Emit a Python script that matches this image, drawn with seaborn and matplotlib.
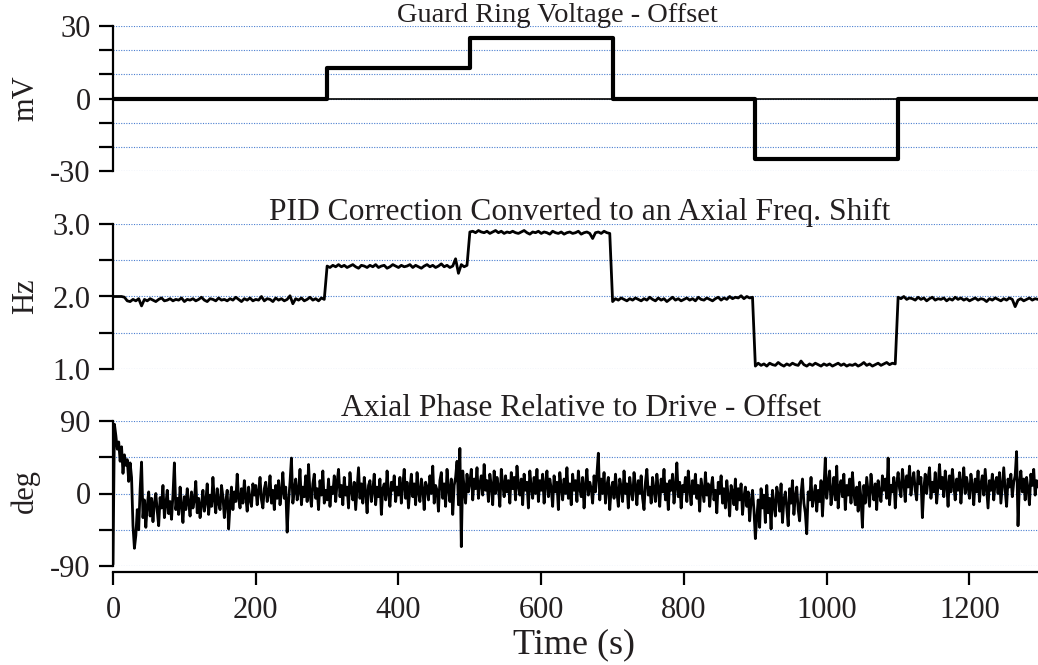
import numpy as np
import matplotlib
matplotlib.use("Agg")
import matplotlib.pyplot as plt
import seaborn as sns
from matplotlib.ticker import FixedLocator, FixedFormatter

# ---------------- data ----------------
# Guard ring voltage steps (mV)
guard_t = [0, 300, 500, 700, 900, 1100, 1300]
guard_mv = [0, 12.5, 25, 0, -25, 0, 0]

# PID correction (centi-Hz), sampled every 4 s from t = 0
pid_step_s = 4
pid_centihz = [
    200, 200, 200, 200, 199, 194, 193, 196, 194, 197,
    187, 196, 194, 197, 195, 193, 196, 198, 194, 195,
    197, 194, 196, 195, 198, 193, 196, 195, 197, 194,
    196, 199, 195, 193, 197, 196, 194, 198, 195, 196,
    194, 197, 195, 199, 196, 193, 197, 195, 198, 194,
    196, 195, 200, 194, 197, 196, 193, 198, 195, 197,
    194, 196, 201, 190, 197, 195, 198, 194, 196, 199,
    195, 197, 194, 198, 196,
    242, 240, 243, 241, 244,
    241, 243, 240, 242, 244, 241, 239, 243, 242, 240,
    243, 241, 244, 240, 242, 243, 239, 241, 244, 242,
    240, 243, 241, 242, 244, 240, 243, 241, 239, 242,
    244, 241, 243, 240, 242, 245, 241, 243, 240, 242,
    252, 232, 244, 241, 243,
    289, 290, 288, 291, 289,
    288, 290, 287, 289, 291, 288, 290, 287, 289, 288,
    290, 288, 287, 289, 291, 288, 286, 289, 288, 290,
    287, 289, 288, 286, 290, 288, 287, 289, 286, 288,
    289, 287, 288, 290, 286, 288, 289, 287, 280, 288,
    289, 287, 290, 288, 287,
    193, 197, 195, 198, 196,
    194, 197, 195, 198, 196, 194, 197, 195, 199, 196,
    194, 198, 195, 197, 193, 196, 199, 195, 197, 194,
    196, 198, 195, 197, 194, 199, 196, 195, 198, 196,
    194, 197, 199, 195, 198, 196, 200, 197, 199, 198,
    201, 197, 200, 198, 199,
    104, 108, 105, 107, 104,
    108, 106, 105, 109, 106, 104, 107, 105, 108, 106,
    105, 111, 106, 104, 107, 105, 108, 106, 104, 107,
    105, 107, 104, 106, 108, 105, 107, 104, 106, 105,
    107, 104, 106, 109, 105, 107, 104, 106, 108, 105,
    107, 109, 106, 108, 107,
    199, 197, 200, 196, 198,
    197, 195, 199, 196, 198, 194, 197, 199, 195, 197,
    196, 198, 194, 197, 195, 199, 196, 198, 195, 197,
    194, 196, 198, 195, 197, 196, 193, 197, 195, 198,
    196, 194, 197, 195, 198, 196, 186, 195, 197, 194,
    196, 198, 195, 197, 196,
]

# Axial phase (deg), sampled every 2 s from t = 0
phase_step_s = 2
phase_deg = [
    -88, 86, 72, 55, 64, 40, 58, 25, 48, 35, 42, 15, 38, 20, -40, -68, -52, -20, -45, 5,
    39, -30, -8, -42, -15, 2, -28, -6, -35, -12, 0, -22, -40, -5, -18, 10, -30, -14, 4, -25,
    -10, -32, -2, 38, -20, -6, -26, 8, -15, -36, -4, -20, 6, -12, -28, 2, -18, -8, 15, -24,
    -6, -30, -14, 4, -22, -10, 12, -26, -2, -16, 20, -8, -24, 6, -12, -20, 10, -4, -30, -10,
    4, -44, -14, 8, -20, 2, -10, 24, -6, -18, 6, -12, 16, -4, -22, 8, -8, -16, 12, -2,
    10, -14, 2, 20, -8, -18, 6, 14, -10, 0, 22, -12, 4, -20, 10, -6, 16, -14, 2, 26,
    -6, 8, -48, -10, 14, 44, -12, 4, 18, -8, 2, 30, -14, 8, -4, 22, -10, 36, 0, -16,
    12, 24, -6, 6, -20, 16, -2, 28, -12, 4, -8, 18, -16, 8, 0, 22, -10, 14, 30, -4,
    10, -14, 20, -2, 8, -18, 26, 4, -8, 14, -20, 6, 32, -6, 12, -12, 20, 2, -24, 10,
    16, -10, 4, 24, -14, 8, -4, 18, -26, 6, 12, -8, 28, 0, -16, 14, 4, 22, -10, 8,
    -2, 20, -12, 10, 30, -6, 14, -18, 6, 24, -4, 12, -14, 26, 2, -10, 18, 6, -20, 14,
    8, -8, 22, 0, 34, -12, 10, 4, -22, 16, 26, -6, 12, -16, 30, 6, -10, 18, -26, 10,
    20, 40, -14, 56, -66, 28, 6, -12, 24, 2, 14, 30, -8, 18, 6, 32, -6, 12, 22, -2,
    36, 4, 16, -10, 24, 10, -14, 28, 0, 20, 8, -16, 30, 12, -4, 22, 2, 16, -12, 26,
    6, 20, -8, 34, 10, -2, 18, -14, 24, 4, 14, -18, 28, 8, -6, 20, 0, 30, -10, 16,
    4, 24, -12, 12, 28, -4, 18, 6, -16, 22, 2, 14, -20, 26, 8, -8, 18, 0, 32, -6,
    12, -14, 24, 4, 16, -10, 28, 6, -4, 20, -18, 10, 30, -2, 14, 6, -12, 22, 2, 24,
    50, -8, 18, 0, 26, -12, 10, 20, -20, 6, 14, -6, 24, 2, -16, 18, 8, -10, 28, 0,
    12, -18, 20, 4, -8, 26, 10, -14, 16, 0, 22, -6, -20, 14, 30, -2, 8, -12, 20, 4,
    -10, 24, 6, -16, 18, 2, 30, -8, 12, -20, 16, 4, 24, -12, 8, 38, -4, 14, -18, 10,
    2, 20, -10, 28, 6, -14, 16, 0, 24, -6, 10, -22, 18, 4, -10, 26, -2, 12, -16, 8,
    20, -8, 4, -24, 14, 0, 22, -12, 6, -18, 16, -4, -28, 10, 2, -14, 18, -20, 6, -8,
    12, -26, -4, 8, -16, 2, -34, -10, 4, -20, -56, -30, -8, -42, 6, -18, -2, -36, 10, -24,
    -6, -44, 4, -14, -28, 8, -2, -22, 12, -36, -8, 2, -18, -40, 6, -12, 16, -26, -4, 8,
    -20, -34, 0, 18, -12, -24, -50, 2, -8, 20, -16, -4, 10, -22, 4, -10, 16, -28, 6, 44,
    -6, 12, 28, -14, 2, 20, -8, 34, -18, 8, 16, -4, 24, -20, 10, -2, 18, -12, 26, 0,
    -14, 8, -22, 14, -6, -42, 10, -12, 20, 2, -16, 24, 6, -8, 12, -20, 16, 0, -10, 22,
    4, 18, -6, 44, -14, 10, 2, 20, -18, 12, 26, 6, -4, 30, 14, -10, 22, 8, 34, -2,
    16, 26, 4, -8, 28, 12, 20, -30, 6, 24, 0, 18, 32, -6, 14, 2, 26, -12, 10, 36,
    6, 20, -4, 28, 12, -16, 22, 2, 30, 10, -8, 18, 4, 26, -12, 14, 32, 0, 20, 8,
    -6, 24, 10, -14, 18, 2, 28, -10, 12, 22, -2, 30, 6, -18, 16, 4, 24, -8, 14, 20,
    0, 26, -12, 10, 32, 4, -16, 18, 8, 24, -4, 14, 22, 52, -40, 12, 28, 2, 18, -8,
    20, 6, -14, 24, 10, 30, -2, 16, 8,
]

titles = ["Guard Ring Voltage - Offset",
          "PID Correction Converted to an Axial Freq. Shift",
          "Axial Phase Relative to Drive - Offset"]
ylabels = ["mV", "Hz", "deg"]
x_ticks = [0, 200, 400, 600, 800, 1000, 1200]

# ---------------- style ----------------
sns.set_theme(style="white")
plt.rcParams["font.family"] = ["Liberation Serif", "DejaVu Serif"]
plt.rcParams["text.color"] = "#231f20"
plt.rcParams["axes.labelcolor"] = "#231f20"
plt.rcParams["xtick.color"] = "black"
plt.rcParams["ytick.color"] = "black"
plt.rcParams["xtick.labelcolor"] = "#231f20"
plt.rcParams["ytick.labelcolor"] = "#231f20"

W, H = 1038, 665
fig = plt.figure(figsize=(W / 100, H / 100), dpi=100)

left = 113 / W
width = 1 - left
XMAX = 1296
FS = 22
grid_color = "#4a7fd0"


def make_ax(top_px):
    return fig.add_axes([left, (H - top_px - 145) / H, width, 145 / H])


def style_ax(ax, ylim, major, major_labels, minor):
    ax.set_xlim(0, XMAX)
    ax.set_ylim(*ylim)
    for s in ["top", "right", "bottom"]:
        ax.spines[s].set_visible(False)
    ax.spines["left"].set_linewidth(1.6)
    ax.spines["left"].set_color("black")
    ax.yaxis.set_major_locator(FixedLocator(major))
    ax.yaxis.set_major_formatter(FixedFormatter(major_labels))
    ax.yaxis.set_minor_locator(FixedLocator(minor))
    ax.tick_params(axis="y", which="both", direction="out", length=10,
                   width=1.6, left=True, pad=6, labelsize=FS)
    ax.set_xticks([])
    ax.grid(axis="y", which="both", color=grid_color, linestyle=(0, (1, 1.3)),
            linewidth=0.8)
    ax.set_axisbelow(True)
    ax.set_ylabel("")


# Panel 1
ax1 = make_ax(26)
ax1.axhline(0, color="black", linewidth=1.2, zorder=1)
sns.lineplot(x=guard_t, y=guard_mv, ax=ax1, color="black", linewidth=3.0,
             drawstyle="steps-post", estimator=None, zorder=3)
style_ax(ax1, (-30, 30), [-30, 0, 30], ["-30", "0", "30"], [-20, -10, 10, 20])

# Panel 2
ax2 = make_ax(224)
pid_t = np.arange(len(pid_centihz)) * pid_step_s
pid_hz = np.array(pid_centihz) / 100.0
sns.lineplot(x=pid_t, y=pid_hz, ax=ax2, color="black", linewidth=2.0,
             estimator=None, zorder=3)
style_ax(ax2, (1.0, 3.0), [1.0, 2.0, 3.0], ["1.0", "2.0", "3.0"], [1.5, 2.5])

# Panel 3
ax3 = make_ax(421)
ph_t = np.arange(len(phase_deg)) * phase_step_s
sns.lineplot(x=ph_t, y=phase_deg, ax=ax3, color="black", linewidth=2.0,
             estimator=None, zorder=3)
style_ax(ax3, (-90, 90), [-90, 0, 90], ["-90", "0", "90"], [-45, 45])
ax3.spines["bottom"].set_visible(True)
ax3.spines["bottom"].set_position(("outward", 4))
ax3.spines["bottom"].set_linewidth(1.6)
ax3.spines["bottom"].set_color("black")
ax3.set_xticks(x_ticks)
ax3.set_xticklabels([str(v) for v in x_ticks])
ax3.tick_params(axis="x", direction="out", length=9.5, width=1.6,
                bottom=True, pad=8, labelsize=FS)
ax3.set_xlabel("")
fig.text(574 / W, 1 - 653 / H, "Time (s)", ha="center", va="baseline",
         fontsize=26)

# Titles
title_x = [557, 580, 581]
title_base = [22, 220, 416]
title_fs = [20.5, 22.7, 22.7]
for x, yb, t, fs in zip(title_x, title_base, titles, title_fs):
    fig.text(x / W, 1 - yb / H, t, ha="center", va="baseline", fontsize=fs)

# Y labels (rotated, baseline at x=33px)
label_y = [98, 296, 491]
for yc, lab in zip(label_y, ylabels):
    fig.text(33 / W, 1 - yc / H, lab, rotation=90, rotation_mode="anchor",
             ha="center", va="baseline", fontsize=FS)

fig.savefig("out.png", dpi=100)
